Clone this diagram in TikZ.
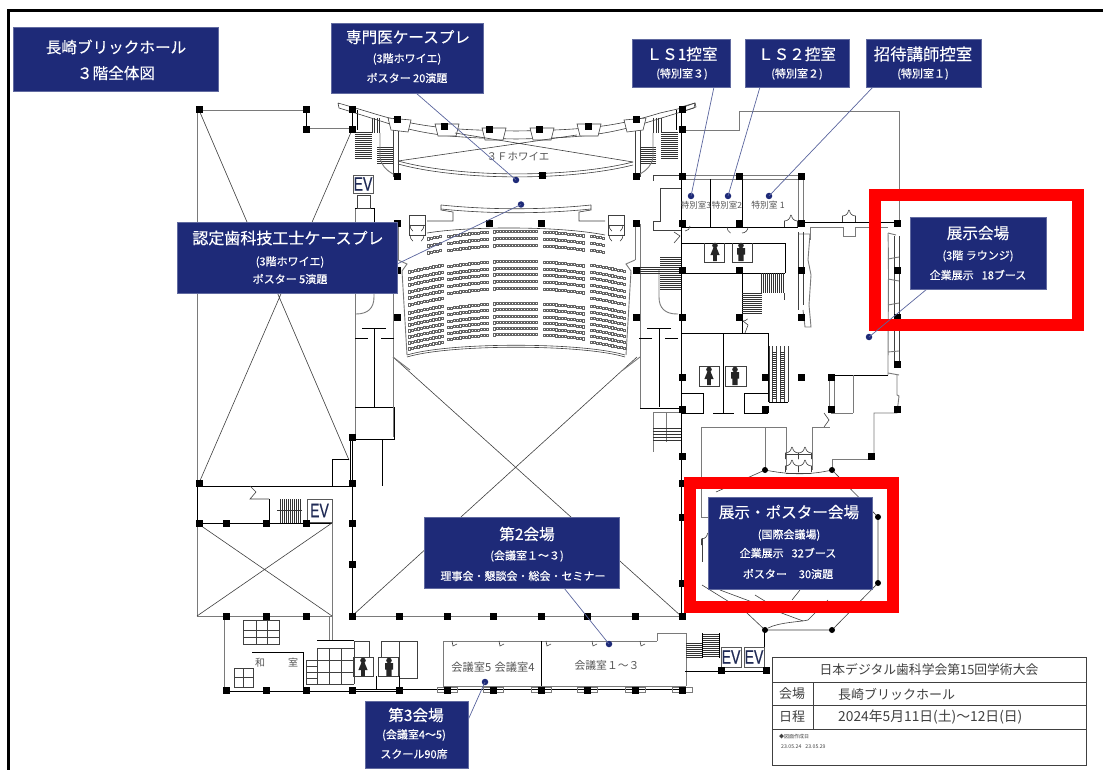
\documentclass[tikz,border=0pt]{standalone}
\usepackage{fontspec}
\setmainfont{Noto Sans CJK JP}
\newfontfamily\evfont[FakeBold=0.5]{Liberation Sans}
\newfontfamily\subfont[FakeBold=0.5]{Noto Sans CJK JP}
\newfontfamily\bigfont[FakeBold=0.25]{Noto Sans CJK JP}
\usetikzlibrary{calc}
\definecolor{navy}{HTML}{1E2A78}
\definecolor{wallg}{HTML}{7A7A7A}
\definecolor{lead}{HTML}{5A659E}
\definecolor{roomtxt}{HTML}{555555}
\definecolor{evtxt}{HTML}{1F2A55}
\tikzset{
 wall/.style={line width=0.9pt,black},
 gwall/.style={line width=0.9pt,wallg},
 thin wall/.style={line width=0.6pt,black!75},
 tread/.style={line width=0.5pt,black!80},
 panel/.style={fill=navy,draw=navy!70!white,line width=0.4pt,inner sep=0pt},
 big/.style={text=white,font=\bigfont\fontsize{15.6}{16}\selectfont,inner sep=0pt},
 sub/.style={text=white,font=\subfont\fontsize{11}{11}\selectfont,inner sep=0pt},
 room/.style={text=roomtxt,font=\fontsize{10}{10}\selectfont,inner sep=0pt},
 dotn/.style={circle,fill=navy,inner sep=0pt,minimum size=6.5pt},
 leader/.style={line width=0.7pt,lead},
 redframe/.style={draw=red,line width=12pt},
 seat/.style={line width=0.3pt,black!60},
 evbox/.style={draw=black!65,line width=0.7pt,fill=white,text=evtxt,inner sep=0pt,font=\evfont\fontsize{19.5}{19.5}\selectfont},
 tbl/.style={line width=0.8pt,black!75},
 tbltxt/.style={text=black!75,font=\fontsize{13}{14}\selectfont,inner sep=0pt},
}
\newcommand\evtext{\scalebox{0.72}[1]{EV}}
\newcommand\cols[1]{\foreach \cx/\cy in {#1}{\fill[black] (\cx-3.5,\cy-3.5) rectangle (\cx+3.5,\cy+3.5);}}
\newcommand\rnd[1]{\foreach \cx/\cy in {#1}{\fill[black] (\cx,\cy) circle (3);}}
\newcommand\seatrow[3]{\pgfmathtruncatemacro\seatn{(#2-#1)/3}\foreach \si in {0,...,\seatn}{\pgfmathsetmacro\xx{#1+3*\si}\draw[seat] (\xx,{#3+0.00107*abs(\xx-516.5)*abs(\xx-516.5)}) rectangle ++(2.5,2.2);}}
\newcommand\lady[2]{\begin{scope}[shift={(#1,#2)}]\fill[black!85] (0,-6.5) circle (2.8);\fill[black!85] (-1.8,-3.8)--(1.8,-3.8)--(4.6,3)--(1.8,3)--(1.8,9)--(-1.8,9)--(-1.8,3)--(-4.6,3)--cycle;\end{scope}}
\newcommand\gent[2]{\begin{scope}[shift={(#1,#2)}]\fill[black!85] (0,-6.5) circle (2.8);\fill[black!85] (-4,-3.8)--(4,-3.8)--(4,2.5)--(2.6,2.5)--(2.6,9)--(-2.6,9)--(-2.6,2.5)--(-4,2.5)--cycle;\end{scope}}
\newcommand\butterfly[2]{\begin{scope}[shift={(#1,#2)}]\draw[thin wall] (-6.5,0)--(-6.5,-6) arc[start angle=90,end angle=0,radius=6]; \draw[thin wall] (6.5,0)--(6.5,-6) arc[start angle=90,end angle=180,radius=6];\end{scope}}
\newcommand\sidehalf{%
 \draw[wall] (352,110)--(352,130); \draw[wall] (357,110)--(357,130);
 \draw[thin wall] (338,103)--(339,108)--(352,112) (338,103)--(352,107);
 \draw[thin wall] (393,120)--(393,177) (398,120)--(398,177);
 \foreach \yy in {132,134,...,158}{\draw[tread] (355,\yy)--(372,\yy);}
 \foreach \yy in {147,149,...,163}{\draw[tread] (377,\yy)--(393,\yy);}
 \foreach \xx in {372,374.5,377,379.5}{\draw[tread] (\xx,118)--(\xx,133);}
 \draw[gwall] (380,133)--(380,157) .. controls (381,165) and (386,170) .. (393,174);
 \draw[thin wall] (409,215)--(409,235)--(425,235)--(425,215)--cycle (409,225)--(425,225);
 \draw[thin wall] (410,225) arc[start angle=180,end angle=130,radius=8] (424,225) arc[start angle=0,end angle=50,radius=8];
 \draw[thin wall] (410,235) arc[start angle=180,end angle=130,radius=8] (424,235) arc[start angle=0,end angle=50,radius=8];
 \draw[gwall] (393,224)--(393,408) (398,224)--(398,260);
 \draw[gwall] (398,260)--(407,264)--(402,271)--(407,355);
 \draw[gwall] (393,357)--(410,370);
 \draw[gwall] (374,270)--(374,297) .. controls (374,308) and (368,314) .. (356,314)--(355,314);
 \draw[wall] (374,328)--(374,407) (362,328)--(386,328) (355,338)--(368,338) (381,338)--(394,338);
}
\begin{document}
\begin{tikzpicture}[x=1pt,y=-1pt]
\useasboundingbox (0,0) rectangle (1103,770);
\fill[white] (0,0) rectangle (1103,770);
\draw[black,line width=3.4pt] (1103,10.5)--(8.5,10.5)--(8.5,770);

\draw[gwall] (199,110)--(306,110);
\draw[wall] (306,110)--(306,130);
\draw[gwall] (306,128)--(352,128);
\draw[gwall] (197,110)--(197,485);
\draw[thin wall] (199,110)--(349,460) (352,130)--(199,483);
\draw[wall] (197,486)--(352,486);
\draw[wall] (332,486)--(332,459)--(349,459);
\draw[gwall] (355,208)--(355,437);
\draw[wall] (355,208)--(374,208)--(374,222);
\draw[gwall] (393,224)--(393,437);
\draw[wall] (355,407)--(394,407)--(394,439)--(350,439)--(350,486);
\draw[wall] (394,439)--(382,439)--(382,486);
\draw[wall] (197,486)--(197,523)--(332,523);
\draw[thin wall] (250,486)--(256,492)--(250,499)--(269,499);
\draw[wall] (269,499)--(269,523);
\foreach \xx in {280,282,...,300}{\draw[tread] (\xx,499)--(\xx,523);}
\draw[tread] (277,510)--(302,510);
\draw[gwall] (197,523)--(197,616)--(332,616)--(332,523);
\draw[thin wall] (197,523)--(332,616) (332,523)--(197,616);
\draw[wall] (352,437)--(352,616);
\draw[gwall] (352,616)--(682,616);
\draw[wall] (681,110)--(681,616);
\draw[thin wall] (393,357)--(681,616) (637,357)--(352,616);

\sidehalf
\begin{scope}[shift={(1033,0)},xscale=-1]\sidehalf\end{scope}

\draw[thin wall] (372,113) .. controls (420,128) and (455,130) .. (516,131) .. controls (577,130) and (612,128) .. (660,113)--(682,108);
\draw[thin wall] (352,107)--(372,113);
\draw[thin wall] (352,112)--(390,124) .. controls (430,136) and (460,138) .. (516,139) .. controls (572,138) and (602,136) .. (642,124)--(681,112);
\draw[thin wall] (681,108)--(695,103)--(696,107)--(681,112);
\foreach \ax/\ay/\bx/\by in {388/118/411/120,435/124/459/124,482/128/506/128,530/128/554/128,577/124/601/124,624/120/646/118}{\draw[thin wall,fill=white] (\ax,\ay)--(\bx,\by)--(\bx-3,\by+12)--(\ax+3,\ay+12)--cycle;}
\draw[thin wall] (398,161)--(577,135) (455,133)--(633,162);
\draw[thin wall] (398,161) .. controls (460,178) and (570,178) .. (633,162);
\draw[thin wall] (398,164) .. controls (460,181) and (570,181) .. (633,165);
\node[room,font=\fontsize{10.5}{10}\selectfont] (foyer) at (518,157) {３Ｆホワイエ};
\draw[thin wall] (441,205)--(441,210)--(453,212)--(453,221)--(427,221);
\draw[thin wall] (591,205)--(591,210)--(579,212)--(579,221)--(605,221);
\draw[thin wall] (441,205) .. controls (490,210) and (542,210) .. (591,205);
\draw[thin wall] (441,209) .. controls (490,214) and (542,214) .. (591,209);

\draw[thin wall] (427,233) .. controls (470,226) and (560,226) .. (605,235);
\foreach \yy in {230,237,244}{\seatrow{447}{487}{\yy}\seatrow{493}{536}{\yy}\seatrow{543}{583}{\yy}}
\foreach \yy in {229,236,243}{\seatrow{427}{440}{\yy}\seatrow{590}{604}{\yy}}
\foreach \yy in {260,267,273,280,287}{\seatrow{447}{487}{\yy}\seatrow{493}{536}{\yy}\seatrow{543}{583}{\yy}}
\foreach \yy in {258,265,271,278,284,291}{\seatrow{408}{441}{\yy}\seatrow{590}{623}{\yy}}
\foreach \yy in {302,308,315,321,327,333}{\seatrow{447}{487}{\yy}\seatrow{493}{536}{\yy}\seatrow{543}{583}{\yy}}
\foreach \yy in {299,305,311,317,323,329,335}{\seatrow{408}{441}{\yy}\seatrow{590}{623}{\yy}}
\draw[thin wall] (407,355) .. controls (450,342) and (582,342) .. (625,355);
\draw[thin wall] (407,357) .. controls (450,344) and (582,344) .. (625,357);

\draw[wall] (638,267)--(681,267);
\foreach \yy in {267,269,...,273}{\draw[tread] (638,\yy)--(660,\yy);}
\foreach \yy in {257,259,...,289}{\draw[tread] (660,\yy)--(681,\yy);}
\draw[thin wall] (653,175)--(681,175) (653,175)--(653,181);
\draw[thin wall] (660,188)--(681,188) (660,188)--(660,221)--(653,221)--(653,230)--(681,230);
\draw[thin wall] (674,232)--(680,236)--(674,243);
% stair block beneath the hall's east corridor
\draw[wall] (640,408)--(681,408);
\draw[gwall] (653,412)--(681,412) (653,412)--(653,452) (666,412)--(666,442);
\foreach \yy in {428,431,434,437,440}{\draw[tread] (653,\yy)--(681,\yy);}

\draw[gwall] (682,130)--(739,130)--(739,111)--(899,111)--(899,224);
\draw[gwall] (681,175)--(801,175) (681,179)--(801,179);
\draw[wall] (710,179)--(710,227) (742,179)--(742,227);
\draw[gwall] (798,179)--(798,227) (803,179)--(803,224);
\draw[wall] (681,227)--(798,227) (681,243)--(785,243)--(785,273) (681,273)--(785,273);
\draw[wall] (803,222)--(897,222);
\draw[gwall] (810,227)--(843,227)--(843,236)--(855,236)--(855,227)--(888,227);
\draw[gwall] (810,227)--(810,240);
\butterfly{849}{222}
\draw[thin wall] (690,226) arc[start angle=0,end angle=90,radius=5];
\draw[thin wall] (727,227) arc[start angle=180,end angle=120,radius=7];
\draw[thin wall] (748,227) arc[start angle=0,end angle=90,radius=6];
\butterfly{791}{227}
\draw[thin wall] (704,243)--(704,262)--(724,262)--(724,243) (732,243)--(732,262)--(752,262)--(752,243);
\lady{715}{252}\gent{741}{252}
\draw[wall] (742,273)--(742,333);
\foreach \xx in {761,763,...,784}{\draw[tread] (\xx,273)--(\xx,293);}
\foreach \yy in {293,295,...,314}{\draw[tread] (742,\yy)--(762,\yy);}
\draw[thin wall] (784,293)--(784,300);
\draw[thin wall] (743,321)--(748,325)--(745,333) (743,321) arc[start angle=90,end angle=40,radius=6];
\draw[gwall] (798,234)--(810,234)--(808,260)--(811,275)--(809,305)--(811,327)--(805,327)--(803,310);
\draw[thin wall] (798,232)--(798,310) (803,232)--(803,305);
\draw[gwall] (888,233)--(896,235) (888,233) .. controls (889,270) and (888,320) .. (888,375);
\draw[thin wall] (894,236)--(894,368) (899,236)--(899,368);
\draw[gwall] (888,259)--(899,257) (888,279)--(899,281) (888,305)--(899,303) (888,352)--(899,351) (888,373)--(899,375);
\draw[wall] (681,333)--(768,333)--(768,402) (723,333)--(723,413);
\draw[wall] (681,393)--(703,393)--(703,413)--(681,413) (713,413)--(734,413) (744,413)--(744,393)--(768,393) (744,413)--(768,413);
\draw[thin wall] (699,366) rectangle (719,386) (725,366) rectangle (746,386);
\lady{709}{376}\gent{735}{376}
\foreach \xx in {769,772,776,780,784,788}{\draw[thin wall] (\xx,346)--(\xx,402);}
\foreach \yy in {352,354,...,398}{\draw[tread] (772,\yy)--(776,\yy) (780,\yy)--(784,\yy);}
\draw[wall] (769,402)--(788,402);
\draw[wall] (834,375)--(888,375);
\draw[gwall] (829,377)--(829,409) (834,377)--(834,409);
\draw[gwall] (831,413)--(853,413) (853,375)--(853,413);
\draw[gwall] (897,375)--(897,395)--(899,396)--(897,413)--(874,413)--(874,456);
\draw[thin wall] (824,413)--(829,420)--(824,427);
\draw[gwall] (812,427)--(830,427) (812,427)--(812,470);
\draw[gwall] (701,427)--(786,427) (701,427)--(701,517)--(708,517) (765,427)--(765,470) (786,427)--(786,470);
\draw[thin wall] (786,454)--(811,454) (786,473)--(811,473);
\butterfly{792}{459}\butterfly{805}{459}\butterfly{792}{472}\butterfly{805}{472}
\draw[gwall] (832,459)--(871,459) (832,459)--(832,470);

\draw[thin wall] (765,470) .. controls (790,475) and (810,475) .. (832,470)--(878,517)--(878,583)--(832,630)--(765,630)--(747,613)--(702,585);
\draw[thin wall] (765,470)--(716,492);
\draw[thin wall] (768,628) .. controls (780,622) and (800,622) .. (808,620)--(828,600);
\draw[thin wall] (720,590)--(803,621) (755,595)--(768,603) (800,590)--(792,600);
\butterfly{708}{545}
\draw[thin wall] (702,538)--(702,562);

\draw[gwall] (443,641)--(657,641) (443,641)--(443,687);
\draw[wall] (541,641)--(541,690);
\draw[wall] (352,689)--(686,689);
\draw[gwall] (443,686)--(686,686);
\draw[gwall] (686,633)--(686,686) (657,633)--(657,641) (657,633)--(686,633);
\draw[wall] (685,671)--(721,671);
\foreach \xx in {447,493,541,587,635,682}{\draw[gwall,line width=0.6pt] (\xx-10,687) rectangle (\xx+10,692);}
\foreach \xx in {452,499,546,592,640}{\draw[thin wall] (\xx,641)--(\xx+1,646)--(\xx+5,644);}
\node[room,font=\fontsize{11.2}{10}\selectfont] (r5) at (493,667) {会議室5\hspace{3.5pt}会議室4};
\node[room,font=\fontsize{10.8}{10}\selectfont] (r13) at (607,665) {会議室１～３};
\foreach \yy in {643,645,...,657}{\draw[tread] (686,\yy)--(702,\yy);}
\foreach \yy in {634,636,...,657}{\draw[tread] (702,\yy)--(719,\yy);}
\draw[wall] (702,633)--(702,658) (719,633)--(719,658);
\draw[wall] (721,671)--(766,671) (764,630)--(764,671);
\node[evbox,minimum width=20pt,minimum height=20pt] (ev1) at (731,657) {\evtext};
\node[evbox,minimum width=20pt,minimum height=20pt] (ev2) at (754,657) {\evtext};
\node[evbox,minimum width=25pt,minimum height=23pt] (ev3) at (319.5,510.5) {\evtext};
\node[evbox,minimum width=20pt,minimum height=18pt] (ev4) at (363,184) {\evtext};
\draw[thin wall] (357,195) rectangle (370,208);

\draw[gwall] (224,616)--(224,690);
\draw[wall] (224,691)--(399,691);
\draw[thin wall] (243,620) rectangle (279,644) (243,630)--(279,630) (243,637)--(279,637) (256,620)--(256,644) (267,620)--(267,644);
\draw[thin wall] (234,668) rectangle (253,687) (234,677)--(253,677) (243,668)--(243,687);
\draw[wall] (252,652)--(303,652)--(303,690);
\node[room] (wa) at (260,663) {和};
\node[room] (shi) at (293,663) {室};
\draw[gwall] (329,616)--(329,640) (332,616)--(332,640);
\draw[wall] (317,640)--(354,640);
\foreach \yy in {648,660,672,684}{\draw[thin wall] (317,\yy)--(354,\yy);}
\foreach \xx in {317,329,341,354}{\draw[thin wall] (\xx,648)--(\xx,684);}
\foreach \yy in {660,666,672,678,684}{\draw[thin wall] (306,\yy)--(317,\yy);}
\draw[thin wall] (306,660)--(306,684);
\draw[thin wall] (354,641) rectangle (369,657) (353,657) rectangle (373,676) (381,641) rectangle (399,657) (378,657) rectangle (398,676) (399,641) rectangle (417,678);
\lady{363}{667}\gent{389}{667}
\draw[wall] (376,676)--(376,690) (399,676)--(399,690);

\cols{199/110,306/110,306/130,352/110,352/130,199/483,352/483,352/437,199/523,226/523,266/523,306/523,352/523,352/564,352/616,226/616,266/616,306/616,226/690,266/690,306/690,352/690,399/690,447/690,493/690,541/690,587/690,635/690,682/690,399/616,447/616,493/616,541/616,587/616,635/616,682/616,721/670,766/670}
\cols{397/120,444/127,489/130,539/130,588/127,636/120,397/177,636/177,542/176,397/224,489/224,541/224,636/224,397/270,636/270,397/317,636/317}
\cols{682/110,682/130,682/177,739/177,801/177,682/224,739/224,801/224,897/224,682/270,739/270,801/270,897/270,682/317,739/317,801/317,897/317,682/377,765/377,801/377,831/377,897/364,682/409,765/409,831/409,897/409,682/456,871/456,682/483,682/517,682/583}
\rnd{765/470,832/470,878/517,878/583,832/630,765/630}

\node[room,font=\fontsize{8.5}{9}\selectfont] (t3) at (696,205) {特別室3};
\node[room,font=\fontsize{8.5}{9}\selectfont] (t2) at (727,205) {特別室2};
\node[room,font=\fontsize{8.8}{9}\selectfont] (t1) at (768,205) {特別室 1};

\draw[redframe] (874.5,195.5) rectangle (1077.5,325);
\draw[redframe] (690,483) rectangle (892.5,607);

\coordinate (lb) at (416,93);
\coordinate (ld) at (397,264);
\coordinate (ll1) at (714,87);
\coordinate (ll2) at (760,87);
\coordinate (ll3) at (873,87);
\coordinate (le) at (927,289);
\coordinate (lg) at (564,588);
\coordinate (lh) at (468,720);
\node[dotn] (d1) at (516,180) {};
\node[dotn] (d2) at (521,204.5) {};
\node[dotn] (d3) at (691,196) {};
\node[dotn] (d4) at (728,196) {};
\node[dotn] (d5) at (769,196) {};
\node[dotn] (d6) at (869,337) {};
\node[dotn] (d7) at (485,682) {};
\node[dotn] (d8) at (609,644) {};
\draw[leader] (lb)--(d1.center) (ld)--(d2.center) (ll1)--(d3.center) (ll2)--(d4.center) (ll3)--(d5.center) (le)--(d6.center) (lg)--(d8.center) (lh)--(d7.center);

\node[panel,minimum width=205pt,minimum height=64pt] (pa) at (115.5,59) {};
\node[big] (pa1) at (116,47) {長崎ブリックホール};
\node[big] (pa2) at (116,73) {３階全体図};
\node[panel,minimum width=152pt,minimum height=70pt] (pb) at (407,58) {};
\node[big] (pb1) at (408,37) {専門医ケースプレ};
\node[sub] (pb2) at (407,59) {(3階ホワイエ)};
\node[sub] (pb3) at (407,78) {ポスター 20演題};
\node[panel,minimum width=98pt,minimum height=48pt] (pc) at (681,63) {};
\node[big] (pc1) at (682,54) {ＬＳ1控室};
\node[sub] (pc2) at (682,74) {(特別室３)};
\node[panel,minimum width=104pt,minimum height=48pt] (pd) at (797,63) {};
\node[big] (pd1) at (797,54) {ＬＳ２控室};
\node[sub] (pd2) at (797,74) {(特別室２)};
\node[panel,minimum width=115pt,minimum height=48pt] (pe) at (923.5,63) {};
\node[big,font=\bigfont\fontsize{16.4}{17}\selectfont] (pe1) at (923,54) {招待講師控室};
\node[sub] (pe2) at (923,74) {(特別室１)};
\node[panel,minimum width=220pt,minimum height=71pt] (pf) at (287,258) {};
\node[big,font=\bigfont\fontsize{16}{16}\selectfont] (pf1) at (288,238) {認定歯科技工士ケースプレ};
\node[sub] (pf2) at (290,262) {(3階ホワイエ)};
\node[sub] (pf3) at (290,279) {ポスター 5演題};
\node[panel,minimum width=136pt,minimum height=72pt] (pg) at (978,253) {};
\node[big] (pg1) at (978,233) {展示会場};
\node[sub] (pg2) at (978,256) {(3階 ラウンジ)};
\node[sub] (pg3) at (978,275) {企業展示\hspace{8pt}18ブース};
\node[panel,minimum width=164pt,minimum height=92pt] (ph) at (790,543) {};
\node[big] (ph1) at (789,512) {展示・ポスター会場};
\node[sub] (ph2) at (789,535) {(国際会議場)};
\node[sub] (ph3) at (788,553) {企業展示\hspace{8pt}32ブース};
\node[sub] (ph4) at (788,574) {ポスター\hspace{12pt}30演題};
\node[panel,minimum width=195pt,minimum height=71pt] (pi) at (521.5,552.5) {};
\node[big] (pi1) at (527,534) {第2会場};
\node[sub] (pi2) at (527,556) {(会議室１～３)};
\node[sub] (pi3) at (523,576) {理事会・懇談会・総会・セミナー};
\node[panel,minimum width=103pt,minimum height=67pt] (pj) at (416.5,734.5) {};
\node[big] (pj1) at (416,715) {第3会場};
\node[sub] (pj2) at (414,735) {(会議室4～5)};
\node[sub] (pj3) at (414,754) {スクール90席};

\draw[tbl,fill=white] (772,657) rectangle (1086,765);
\draw[tbl] (772,682)--(1086,682) (772,705)--(1086,705) (772,729)--(1086,729) (813,682)--(813,729);
\node[tbltxt,font=\fontsize{12.8}{14}\selectfont] (tt) at (929,670) {日本デジタル歯科学会第15回学術大会};
\node[tbltxt] (tv) at (792,694) {会場};
\node[tbltxt,anchor=west] (tn) at (838,694) {長崎ブリックホール};
\node[tbltxt] (td) at (792,717) {日程};
\node[tbltxt,anchor=west,font=\fontsize{13.8}{14}\selectfont] (ts) at (838,717) {2024年5月11日(土)～12日(日)};
\node[tbltxt,font=\fontsize{5}{5}\selectfont,anchor=west] (tz) at (779,737) {◆図面作成日};
\node[tbltxt,font=\fontsize{5.2}{5}\selectfont,anchor=west] (ty) at (781,747) {23.05.24\hspace{4pt}23.05.29};
\end{tikzpicture}
\end{document}
